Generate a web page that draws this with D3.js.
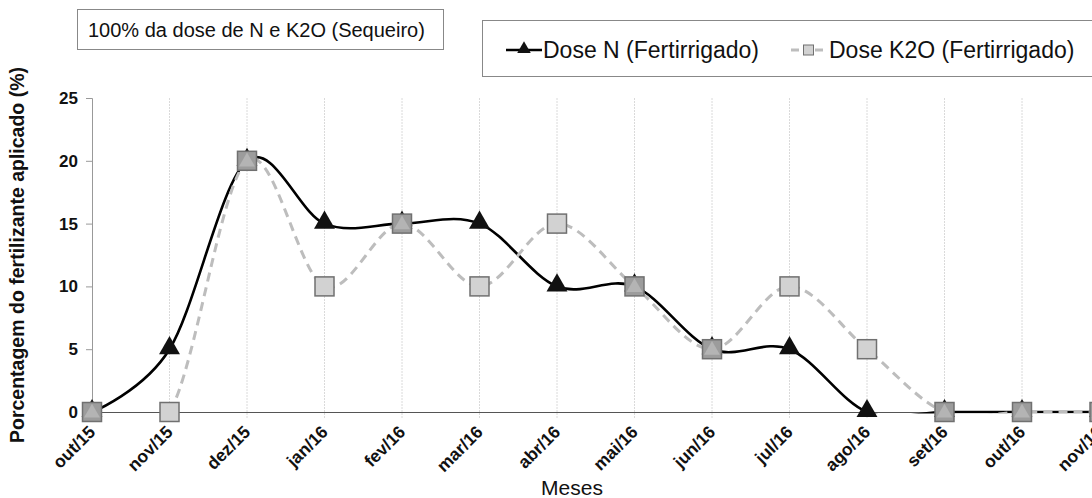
<!DOCTYPE html>
<html>
<head>
<meta charset="utf-8">
<script src="https://cdn.jsdelivr.net/npm/d3@7"></script>
<style>
  html, body { margin: 0; padding: 0; background: #fff; }
  svg { display: block; font-family: "Liberation Sans", Arial, Helvetica, sans-serif; }
</style>
</head>
<body>
<svg id="chart" width="1092" height="498"></svg>
<script>
// Meses do ciclo de aplicação
const months = ["out/15","nov/15","dez/15","jan/16","fev/16","mar/16","abr/16","mai/16","jun/16","jul/16","ago/16","set/16","out/16","nov/16"];
// Porcentagem da dose aplicada em cada mês (%)
const doseN   = [0, 5, 20, 15, 15, 15, 10, 10, 5, 5, 0, 0, 0, 0];
const doseK2O = [0, 0, 20, 10, 15, 10, 15, 10, 5, 10, 5, 0, 0, 0];
const yTicks  = [0, 5, 10, 15, 20, 25];

const FONT = "'Liberation Sans', Arial, Helvetica, sans-serif";
const svg = d3.select("#chart");

const x = d3.scalePoint().domain(months).range([92, 92 + 77.5 * (months.length - 1)]);
const y = d3.scaleLinear().domain([0, 25]).range([412, 98]);

// plot area clip (series are cut off below zero, like the original spreadsheet chart)
svg.append("defs").append("clipPath").attr("id", "plot")
  .append("rect")
  .attr("x", 0).attr("y", y(25) - 5)
  .attr("width", 1200).attr("height", y(0) - y(25) + 6.5);

// vertical gridlines
svg.append("g")
  .selectAll("line")
  .data(months.slice(1))
  .join("line")
  .attr("x1", d => x(d)).attr("x2", d => x(d))
  .attr("y1", y(25)).attr("y2", y(0) + 6)
  .attr("stroke", "#dadada")
  .attr("stroke-width", 1)
  .attr("stroke-dasharray", "2,1");

// y axis
const yAxis = svg.append("g")
  .attr("transform", `translate(${x(months[0])},0)`)
  .call(d3.axisLeft(y).tickValues(yTicks).tickSize(6).tickPadding(8));
yAxis.select(".domain").attr("stroke", "#999");
yAxis.selectAll(".tick line").attr("stroke", "#999");
yAxis.selectAll(".tick text")
  .attr("font-size", 17).attr("font-weight", "bold").attr("fill", "#111")
  .attr("font-family", FONT);

// x axis
const xAxis = svg.append("g")
  .attr("transform", `translate(0,${y(0)})`)
  .call(d3.axisBottom(x).tickSize(0).tickSizeOuter(0));
xAxis.select(".domain").attr("stroke", "#555").attr("stroke-width", 1.2);
xAxis.selectAll(".tick text")
  .attr("font-size", 17.5).attr("font-weight", "bold").attr("fill", "#111")
  .attr("font-family", FONT)
  .attr("text-anchor", "end")
  .attr("dy", null).attr("y", 0)
  .attr("transform", "translate(4,21) rotate(-45)");

// series lines
const line = d3.line()
  .x((d, i) => x(months[i]))
  .y(d => y(d))
  .curve(d3.curveCardinal.tension(0));

const lines = svg.append("g").attr("clip-path", "url(#plot)");

lines.append("path")
  .datum(doseN)
  .attr("d", line)
  .attr("fill", "none")
  .attr("stroke", "#000")
  .attr("stroke-width", 2.6);

const triangle = d3.symbol().type(d3.symbolTriangle).size(190);

const nMarks = svg.append("g");
nMarks.selectAll("path")
  .data(doseN)
  .join("path")
  .attr("d", triangle)
  .attr("transform", (d, i) => `translate(${x(months[i])},${y(d) - 1})`)
  .attr("fill", "#111");

const kLine = svg.append("g").attr("clip-path", "url(#plot)");
kLine.append("path")
  .datum(doseK2O)
  .attr("d", line)
  .attr("fill", "none")
  .attr("stroke", "#bdbdbd")
  .attr("stroke-width", 3)
  .attr("stroke-dasharray", "9,6");

// squares; where both doses coincide the marker is shown shaded
const sq = 19;
const kMarks = svg.append("g")
  .selectAll("g")
  .data(doseK2O)
  .join("g")
  .attr("transform", (d, i) => `translate(${x(months[i])},${y(d)})`);
kMarks.append("rect")
  .attr("x", -sq / 2).attr("y", -sq / 2)
  .attr("width", sq).attr("height", sq)
  .attr("fill", (d, i) => d === doseN[i] ? "#9c9c9c" : "#d2d2d2")
  .attr("stroke", "#707070")
  .attr("stroke-width", 1.5);
kMarks.filter((d, i) => d === doseN[i])
  .append("path")
  .attr("d", d3.symbol().type(d3.symbolTriangle).size(110))
  .attr("transform", "translate(0,1)")
  .attr("fill", "#b4b4b4");

// axis titles
svg.append("text")
  .attr("transform", "translate(24,255) rotate(-90)")
  .attr("text-anchor", "middle")
  .attr("font-size", 19.5).attr("font-weight", "bold").attr("fill", "#111")
  .text("Porcentagem do fertilizante aplicado (%)");

svg.append("text")
  .attr("x", 572).attr("y", 495)
  .attr("text-anchor", "middle")
  .attr("font-size", 21).attr("fill", "#111")
  .text("Meses");

// rainfed reference box
svg.append("rect")
  .attr("x", 77.5).attr("y", 9.5).attr("width", 366).attr("height", 40)
  .attr("fill", "#fff").attr("stroke", "#888");
svg.append("text")
  .attr("x", 88).attr("y", 37)
  .attr("font-size", 20).attr("fill", "#111")
  .text("100% da dose de N e K2O (Sequeiro)");

// legend
const leg = svg.append("g");
leg.append("rect")
  .attr("x", 482.5).attr("y", 20.5).attr("width", 620).attr("height", 56)
  .attr("fill", "#fff").attr("stroke", "#888");
leg.append("line")
  .attr("x1", 506).attr("x2", 542).attr("y1", 50).attr("y2", 50)
  .attr("stroke", "#000").attr("stroke-width", 2.6);
leg.append("path")
  .attr("d", d3.symbol().type(d3.symbolTriangle).size(80))
  .attr("transform", "translate(524,49)").attr("fill", "#111");
leg.append("text")
  .attr("x", 543).attr("y", 58)
  .attr("font-size", 23).attr("fill", "#111")
  .text("Dose N (Fertirrigado)");
leg.append("line")
  .attr("x1", 791).attr("x2", 826).attr("y1", 50).attr("y2", 50)
  .attr("stroke", "#bdbdbd").attr("stroke-width", 3)
  .attr("stroke-dasharray", "8,4");
leg.append("rect")
  .attr("x", 803.5).attr("y", 45).attr("width", 10).attr("height", 10)
  .attr("fill", "#d2d2d2").attr("stroke", "#707070").attr("stroke-width", 1);
leg.append("text")
  .attr("x", 829).attr("y", 58)
  .attr("font-size", 23).attr("fill", "#111")
  .text("Dose K2O (Fertirrigado)");
</script>
</body>
</html>
